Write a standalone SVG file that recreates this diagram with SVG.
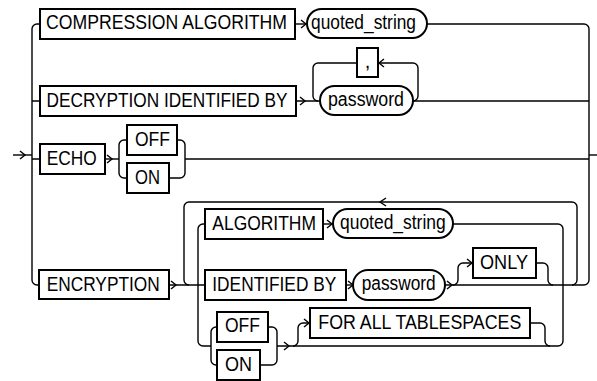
<svg xmlns="http://www.w3.org/2000/svg" width="597" height="381" viewBox="0 0 597 381">
<style>
.box{fill:#fff;stroke:#000;stroke-width:2}
.cap{fill:#fff;stroke:#000;stroke-width:2}
.ln{fill:none;stroke:#000;stroke-width:1.4}
.arr{fill:none;stroke:#000;stroke-width:1.4}
text{font-family:"Liberation Sans",Arial,Helvetica,sans-serif;font-size:20px;fill:#000}
</style>
<rect width="597" height="381" fill="#fff"/>
<g id="connectors">
<path class="ln" d="M13,155 H32"/>
<path class="ln" d="M40,24 H37 A5,5 0 0 0 32,29 V280 A5,5 0 0 0 37,285 H39"/>
<path class="ln" d="M32,101 H40 M32,159 H40"/>
<path class="ln" d="M295,24 H307"/>
<path class="ln" d="M427,24 H584 A5,5 0 0 1 589,29 V280 A5,5 0 0 1 584,285 H445"/>
<path class="ln" d="M589,155 H597"/>
<path class="ln" d="M296,101 H320 M413,101 H589"/>
<path class="ln" d="M318,101 A5,5 0 0 1 313,96 V68 A5,5 0 0 1 318,63 H357"/>
<path class="ln" d="M378,63 H413 A5,5 0 0 1 418,68 V96 A5,5 0 0 1 413,101"/>
<path class="ln" d="M105,159 H119"/>
<path class="ln" d="M127,140 H124 A5,5 0 0 0 119,145 V173 A5,5 0 0 0 124,178 H127"/>
<path class="ln" d="M177,140 H180 A5,5 0 0 1 185,145 V173 A5,5 0 0 1 180,178 H169"/>
<path class="ln" d="M185,159 H589"/>
<path class="ln" d="M169,285 H205"/>
<path class="ln" d="M189,285 A5,5 0 0 1 184,280 V207 A5,5 0 0 1 189,202 H572 A5,5 0 0 1 577,207 V280 A5,5 0 0 1 572,285"/>
<path class="ln" d="M205,224 H203 A5,5 0 0 0 198,229 V341 A5,5 0 0 0 203,346 H211"/>
<path class="ln" d="M323,224 H333"/>
<path class="ln" d="M453,224 H558 A5,5 0 0 1 563,229 V341 A5,5 0 0 1 558,346 H277"/>
<path class="ln" d="M346,285 H353"/>
<path class="ln" d="M453,285 A5,5 0 0 0 458,280 V268 A5,5 0 0 1 463,263 H473"/>
<path class="ln" d="M536,263 H543 A5,5 0 0 1 548,268 V280 A5,5 0 0 0 553,285"/>
<path class="ln" d="M217,327 H216 A5,5 0 0 0 211,332 V360 A5,5 0 0 0 216,365 H217"/>
<path class="ln" d="M268,327 H272 A5,5 0 0 1 277,332 V360 A5,5 0 0 1 272,365 H260"/>
<path class="ln" d="M293,346 A5,5 0 0 0 298,341 V328 A5,5 0 0 1 303,323 H310"/>
<path class="ln" d="M530,323 H540 A5,5 0 0 1 545,328 V341 A5,5 0 0 0 550,346"/>
<path class="arr" d="M20,151 L25,155 L20,159"/>
<path class="arr" d="M301,20 L306,24 L301,28"/>
<path class="arr" d="M300,97 L305,101 L300,105"/>
<path class="arr" d="M384,59 L379,63 L384,67"/>
<path class="arr" d="M107,155 L112,159 L107,163"/>
<path class="arr" d="M171,281 L176,285 L171,289"/>
<path class="arr" d="M386,198 L380,202 L386,206"/>
<path class="arr" d="M327,220 L332,224 L327,228"/>
<path class="arr" d="M348,281 L353,285 L348,289"/>
<path class="arr" d="M447,281 L452,285 L447,289"/>
<path class="arr" d="M467,259 L472,263 L467,267"/>
<path class="arr" d="M284,342 L289,346 L284,350"/>
<path class="arr" d="M304,319 L309,323 L304,327"/>
</g>
<g id="compression-algorithm"><rect class="box" x="40" y="9" width="255" height="30"/><text x="46" y="29" textLength="241" lengthAdjust="spacingAndGlyphs">COMPRESSION ALGORITHM</text></g>
<g id="quoted-string-1"><rect class="cap" x="307" y="9" width="120" height="29" rx="14.5"/><text x="311" y="29" textLength="105" lengthAdjust="spacingAndGlyphs">quoted_string</text></g>
<g id="decryption-identified-by"><rect class="box" x="40" y="86" width="256" height="30"/><text x="46.5" y="107" textLength="241" lengthAdjust="spacingAndGlyphs">DECRYPTION IDENTIFIED BY</text></g>
<g id="comma"><rect class="box" x="357" y="48" width="21" height="29"/><text x="367.5" y="67.5" text-anchor="middle">,</text></g>
<g id="password-1"><rect class="cap" x="320" y="86" width="93" height="29" rx="14.5"/><text x="328" y="106" textLength="76" lengthAdjust="spacingAndGlyphs">password</text></g>
<g id="echo"><rect class="box" x="40" y="144" width="65" height="30"/><text x="46.7" y="165" textLength="50" lengthAdjust="spacingAndGlyphs">ECHO</text></g>
<g id="echo-off"><rect class="box" x="127" y="125" width="50" height="30"/><text x="135" y="145.5" textLength="35" lengthAdjust="spacingAndGlyphs">OFF</text></g>
<g id="echo-on"><rect class="box" x="127" y="163" width="42" height="30"/><text x="135" y="183.5" textLength="25" lengthAdjust="spacingAndGlyphs">ON</text></g>
<g id="encryption"><rect class="box" x="39" y="270" width="130" height="29"/><text x="46.7" y="290.5" textLength="113" lengthAdjust="spacingAndGlyphs">ENCRYPTION</text></g>
<g id="algorithm"><rect class="box" x="205" y="209" width="118" height="30"/><text x="212.3" y="229.5" textLength="103.7" lengthAdjust="spacingAndGlyphs">ALGORITHM</text></g>
<g id="quoted-string-2"><rect class="cap" x="333" y="209" width="120" height="29" rx="14.5"/><text x="340" y="229" textLength="105.7" lengthAdjust="spacingAndGlyphs">quoted_string</text></g>
<g id="identified-by"><rect class="box" x="205" y="270" width="141" height="30"/><text x="212.3" y="290.5" textLength="124" lengthAdjust="spacingAndGlyphs">IDENTIFIED BY</text></g>
<g id="password-2"><rect class="cap" x="353" y="270" width="92" height="30" rx="15"/><text x="361.7" y="290" textLength="74" lengthAdjust="spacingAndGlyphs">password</text></g>
<g id="only"><rect class="box" x="473" y="248" width="63" height="30"/><text x="480" y="268.5" textLength="48" lengthAdjust="spacingAndGlyphs">ONLY</text></g>
<g id="enc-off"><rect class="box" x="217" y="312" width="51" height="30"/><text x="225" y="332" textLength="35" lengthAdjust="spacingAndGlyphs">OFF</text></g>
<g id="enc-on"><rect class="box" x="217" y="350" width="43" height="30"/><text x="225" y="370.5" textLength="27" lengthAdjust="spacingAndGlyphs">ON</text></g>
<g id="for-all-tablespaces"><rect class="box" x="310" y="308" width="220" height="30"/><text x="318.3" y="328.5" textLength="203" lengthAdjust="spacingAndGlyphs">FOR ALL TABLESPACES</text></g>
</svg>
